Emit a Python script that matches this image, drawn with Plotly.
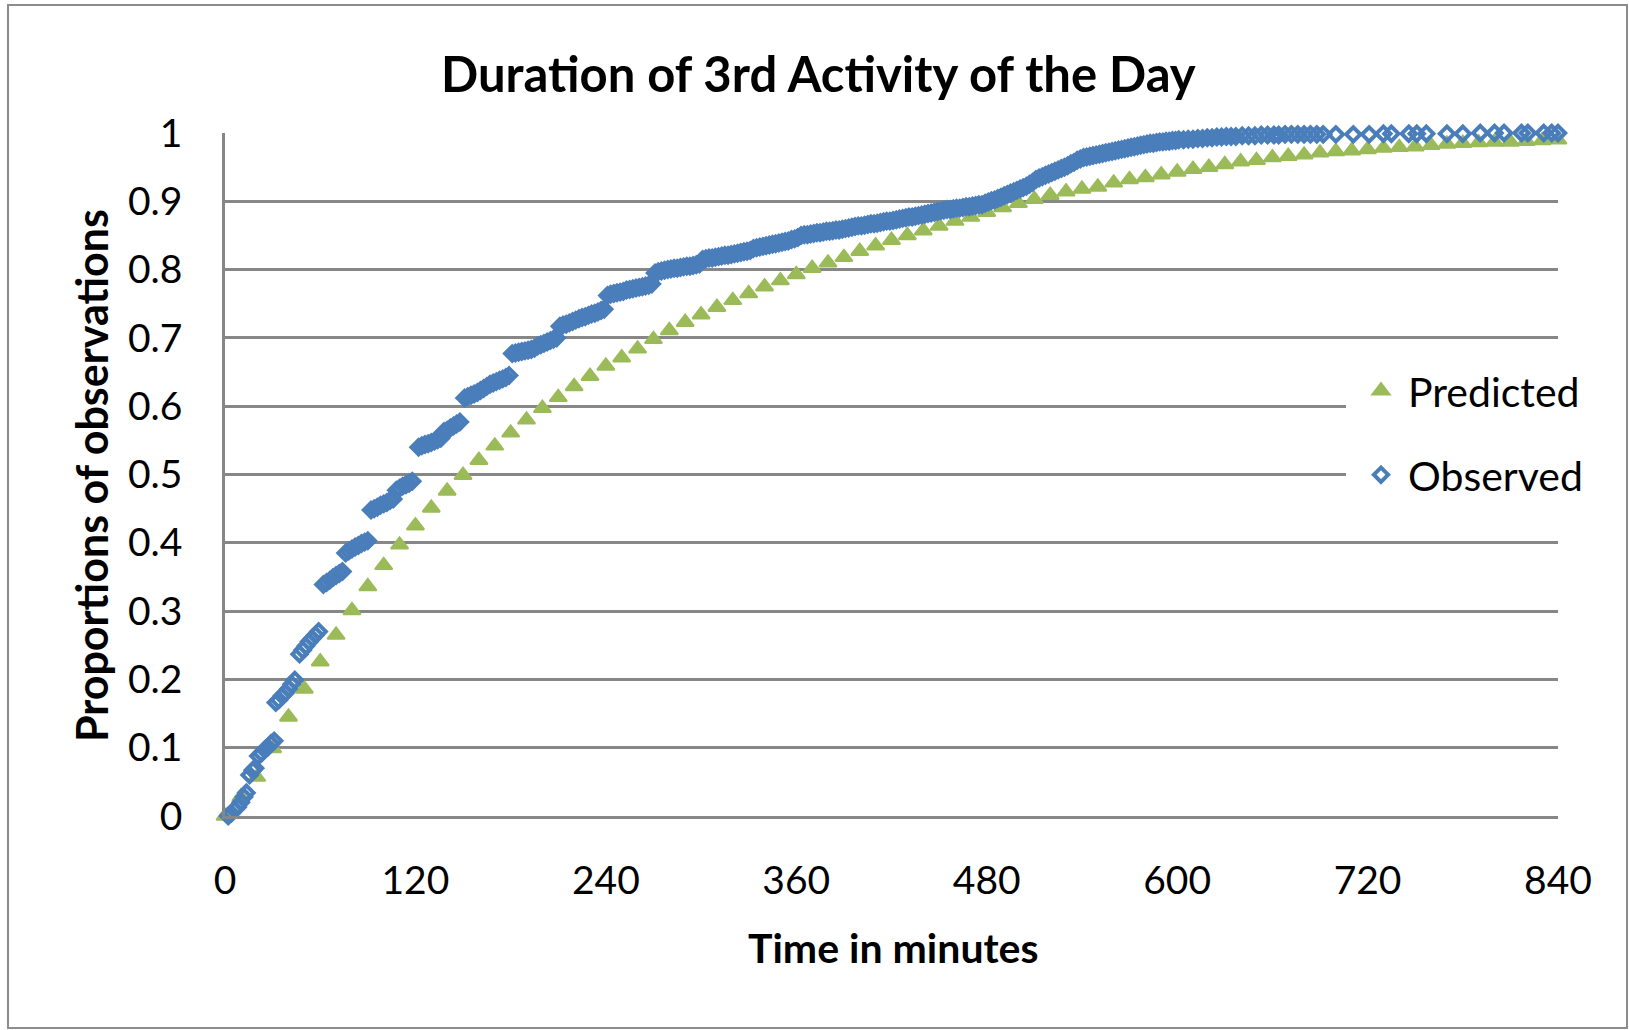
import plotly.graph_objects as go

# ---- data -------------------------------------------------------------
# Model prediction of cumulative share, sampled every 10 minutes
pred_minutes = [0, 10, 20, 30, 40, 50, 60, 70, 80, 90,
                100, 110, 120, 130, 140, 150, 160, 170, 180, 190,
                200, 210, 220, 230, 240, 250, 260, 270, 280, 290,
                300, 310, 320, 330, 340, 350, 360, 370, 380, 390,
                400, 410, 420, 430, 440, 450, 460, 470, 480, 490,
                500, 510, 520, 530, 540, 550, 560, 570, 580, 590,
                600, 610, 620, 630, 640, 650, 660, 670, 680, 690,
                700, 710, 720, 730, 740, 750, 760, 770, 780, 790,
                800, 810, 820, 830, 840]
pred_share = [0.0, 0.028, 0.057, 0.099, 0.145, 0.186, 0.226, 0.265, 0.301, 0.336,
              0.367, 0.397, 0.425, 0.451, 0.476, 0.499, 0.521, 0.542, 0.561, 0.580,
              0.597, 0.613, 0.629, 0.644, 0.659, 0.671, 0.684, 0.698, 0.711, 0.723,
              0.734, 0.745, 0.755, 0.765, 0.775, 0.784, 0.793, 0.802, 0.810, 0.818,
              0.827, 0.835, 0.843, 0.850, 0.857, 0.864, 0.871, 0.877, 0.884, 0.891,
              0.897, 0.903, 0.909, 0.914, 0.918, 0.921, 0.927, 0.932, 0.935, 0.939,
              0.943, 0.947, 0.950, 0.954, 0.958, 0.960, 0.964, 0.966, 0.968, 0.971,
              0.973, 0.974, 0.976, 0.978, 0.979, 0.980, 0.982, 0.984, 0.985, 0.986,
              0.987, 0.987, 0.988, 0.989, 0.990]

# Observed cumulative share of activity durations
obs_minutes = [
    2, 4, 6, 8, 10, 12, 13.5,
    15.5, 17.5, 19,
    21, 23, 25, 27, 29, 31,
    32, 34, 36, 38, 40, 42, 44,
    47, 49, 51, 53, 55, 57, 59,
    62, 64, 66, 68, 70, 72, 74,
    76, 78, 80, 82, 84, 86, 88, 90,
    92, 94, 96, 98, 100, 102, 104, 106,
    108, 110, 112, 114, 116, 118,
    122, 124, 126, 128, 130, 132, 134, 136,
    138, 140, 142, 144, 146, 148,
    151, 153, 155, 157, 159, 161, 163, 165,
    167, 169, 171, 173, 175, 177, 179,
    181, 183, 185, 187, 189, 191, 193, 195,
    197, 199, 201, 203, 205, 207, 209,
    211, 213, 215, 217, 219, 221,
    223, 225, 227, 229, 231, 233, 235, 237, 239,
    241, 243, 245, 247, 249, 251, 253, 255, 257, 259, 261, 263, 265, 267, 269,
    271, 273, 275, 277, 279, 281, 283, 285, 287, 289, 291, 293, 295, 297, 299,
    301, 303, 305, 307, 309, 311, 313, 315, 317, 319, 321, 323, 325, 327, 329, 331,
    333, 335, 337, 339, 341, 343, 345, 347, 349, 351, 353, 355, 357, 359, 361,
    363, 365, 367, 369, 371, 373, 375, 377, 379, 381, 383, 385, 387, 389, 391, 393,
    395, 397, 399, 401, 403, 405, 407, 409, 411, 413, 415, 417, 419, 421, 423, 425,
    427, 429, 431, 433, 435, 437, 439, 441, 443, 445, 447, 449, 451, 453, 455, 457,
    459, 461, 463, 465, 467, 469, 471, 473, 475, 477,
    479, 481, 483, 485, 487, 489, 491, 493, 495, 497, 499, 501, 503, 505, 507, 509,
    511, 513, 515, 517, 519, 521, 523, 525, 527, 529, 531, 533, 535, 537, 539, 541,
    543, 545, 547, 549, 551, 553, 555, 557, 559,
    561, 563, 565, 567, 569, 571, 573, 575, 577, 579, 581, 583, 585, 587, 589, 591,
    593, 595, 597, 599, 601,
    604, 607, 610, 613, 616, 619, 622, 625, 628, 631, 634,
    637, 641, 645, 649, 653, 657, 661, 664, 668, 672, 676, 680, 684, 688, 692,
    700, 711, 721, 730, 735, 746, 751, 757, 770, 780, 791, 800, 806, 817, 821,
    831, 836, 840,
]
obs_share = [
    0.0, 0.004, 0.009, 0.013, 0.02, 0.028, 0.034,
    0.06, 0.067, 0.07,
    0.088, 0.092, 0.097, 0.101, 0.106, 0.11,
    0.166, 0.17, 0.176, 0.18, 0.186, 0.193, 0.199,
    0.237, 0.243, 0.249, 0.255, 0.26, 0.265, 0.27,
    0.339, 0.342, 0.345, 0.349, 0.352, 0.355, 0.358,
    0.385, 0.388, 0.391, 0.394, 0.396, 0.399, 0.401, 0.403,
    0.448, 0.45, 0.452, 0.455, 0.457, 0.459, 0.462, 0.464,
    0.477, 0.48, 0.483, 0.485, 0.487, 0.49,
    0.54, 0.542, 0.544, 0.545, 0.547, 0.549, 0.551, 0.553,
    0.563, 0.565, 0.568, 0.571, 0.574, 0.577,
    0.612, 0.614, 0.616, 0.618, 0.62, 0.623, 0.626, 0.629,
    0.632, 0.634, 0.636, 0.638, 0.64, 0.642, 0.645,
    0.677, 0.678, 0.679, 0.68, 0.681, 0.682, 0.683, 0.685,
    0.688, 0.69, 0.692, 0.694, 0.696, 0.698, 0.7,
    0.717, 0.719, 0.72, 0.722, 0.724, 0.726,
    0.728, 0.73, 0.731, 0.733, 0.735, 0.736, 0.738, 0.74, 0.742,
    0.762, 0.764, 0.765, 0.766, 0.767, 0.768, 0.77, 0.771, 0.772, 0.773, 0.774,
    0.775, 0.776, 0.777, 0.779,
    0.795, 0.797, 0.798, 0.799, 0.8, 0.801, 0.802, 0.802, 0.803, 0.804, 0.805,
    0.805, 0.806, 0.807, 0.808,
    0.815, 0.816, 0.817, 0.817, 0.818, 0.819, 0.82, 0.821, 0.821, 0.822, 0.823,
    0.824, 0.825, 0.826, 0.827, 0.828,
    0.831, 0.832, 0.833, 0.834, 0.835, 0.836, 0.837, 0.838, 0.839, 0.84, 0.841,
    0.842, 0.844, 0.845, 0.847,
    0.85, 0.851, 0.851, 0.852, 0.853, 0.854, 0.854, 0.855, 0.856, 0.856, 0.857,
    0.858, 0.858, 0.859, 0.86, 0.861,
    0.862, 0.863, 0.864, 0.864, 0.865, 0.866, 0.867, 0.867, 0.868, 0.869, 0.87,
    0.871, 0.871, 0.872, 0.873, 0.874,
    0.875, 0.876, 0.877, 0.877, 0.878, 0.879, 0.88, 0.881, 0.882, 0.883, 0.884,
    0.885, 0.886, 0.887, 0.888, 0.888,
    0.889, 0.89, 0.89, 0.891, 0.892, 0.892, 0.893, 0.894, 0.895, 0.895,
    0.897, 0.899, 0.901, 0.902, 0.904, 0.906, 0.908, 0.91, 0.912, 0.914, 0.916,
    0.918, 0.92, 0.922, 0.925, 0.928,
    0.932, 0.934, 0.936, 0.938, 0.94, 0.942, 0.944, 0.946, 0.948, 0.95, 0.952,
    0.955, 0.957, 0.96, 0.962, 0.964,
    0.965, 0.966, 0.967, 0.968, 0.969, 0.97, 0.971, 0.972, 0.973,
    0.974, 0.975, 0.976, 0.977, 0.978, 0.979, 0.98, 0.981, 0.982, 0.983, 0.984,
    0.985, 0.985, 0.986, 0.987, 0.987,
    0.988, 0.988, 0.989, 0.989, 0.99,
    0.99, 0.991, 0.991, 0.992, 0.992, 0.993, 0.993, 0.994, 0.994, 0.995, 0.995,
    0.995, 0.996, 0.996, 0.996, 0.997, 0.997, 0.997, 0.997, 0.998, 0.998, 0.998,
    0.998, 0.998, 0.998, 0.998,
    0.998, 0.998, 0.998, 0.999, 0.999, 0.999, 0.999, 0.999, 0.999, 0.999, 1.0,
    1.0, 1.0, 1.0, 1.0,
    1.0, 1.0, 1.0,
]

x_tick_values = [0, 120, 240, 360, 480, 600, 720, 840]
y_tick_values = [0, 0.1, 0.2, 0.3, 0.4, 0.5, 0.6, 0.7, 0.8, 0.9, 1]
y_tick_labels = ["0", "0.1", "0.2", "0.3", "0.4", "0.5", "0.6", "0.7", "0.8", "0.9", "1"]

# ---- layout geometry (pixels) ----------------------------------------
W, H = 1629, 1030
PL, PR, PT, PB = 225, 1558, 133, 816   # plot-area edges


def fx(px):
    return (px - PL) / (PR - PL)


def fy(py):
    return (PB - py) / (PB - PT)


GREEN = "#9BBB59"
BLUE = "#4A7EBB"
GRID = "#878787"
FONT = "Lato"

fig = go.Figure()

fig.add_trace(go.Scatter(
    x=pred_minutes, y=pred_share, mode="markers", name="Predicted",
    marker=dict(symbol="triangle-up", size=15, color=GREEN,
                line=dict(color=GREEN, width=2)),
    cliponaxis=False, legend="legend",
))
fig.add_trace(go.Scatter(
    x=obs_minutes, y=obs_share, mode="markers", name="Observed",
    marker=dict(symbol="diamond-open", size=11, color=BLUE,
                line=dict(width=4)),
    cliponaxis=False, legend="legend2",
))

# white border pads the legend box so it masks the gridlines a bit further left
legend_common = dict(
    xanchor="left", yanchor="middle", bgcolor="white",
    bordercolor="white", borderwidth=8,
    font=dict(family=FONT, size=41, color="black"), itemwidth=44,
)

fig.update_layout(
    width=W, height=H,
    margin=dict(l=PL, r=W - PR, t=PT, b=H - PB, autoexpand=False),
    paper_bgcolor="white", plot_bgcolor="white",
    showlegend=True,
    legend=dict(x=fx(1381 - 27 - 8), y=fy(391), **legend_common),
    legend2=dict(x=fx(1381 - 27 - 8), y=fy(475), **legend_common),
    xaxis=dict(
        range=[0, 840], tickmode="array", tickvals=x_tick_values,
        showgrid=False, zeroline=False, showline=True,
        linecolor=GRID, linewidth=2.5, ticks="",
        tickfont=dict(family=FONT, size=39, color="black"),
        ticklabelstandoff=28,
    ),
    yaxis=dict(
        range=[0, 1], tickmode="array", tickvals=y_tick_values,
        ticktext=y_tick_labels,
        showgrid=True, gridcolor=GRID, gridwidth=2.5,
        zeroline=False, showline=True, linecolor=GRID, linewidth=2.5,
        ticks="", tickfont=dict(family=FONT, size=39, color="black"),
        ticklabelstandoff=32,
    ),
    annotations=[
        dict(text="Duration of 3rd Activity of the Day", xref="paper", yref="paper",
             x=fx(818), y=fy(73), xanchor="center", yanchor="middle",
             showarrow=False,
             font=dict(family=FONT, size=49, color="black", weight="bold")),
        dict(text="Time in minutes", xref="paper", yref="paper",
             x=fx(893), y=fy(947), xanchor="center", yanchor="middle",
             showarrow=False,
             font=dict(family=FONT, size=41, color="black", weight="bold")),
        dict(text="Proportions of observations", xref="paper", yref="paper",
             x=fx(91), y=fy(476), xanchor="center", yanchor="middle",
             showarrow=False, textangle=-90,
             font=dict(family=FONT, size=43, color="black", weight="bold")),
    ],
    shapes=[
        dict(type="rect", xref="paper", yref="paper",
             x0=fx(8), x1=fx(1627), y0=fy(1028), y1=fy(5),
             line=dict(color="#8C8C8C", width=2), fillcolor="rgba(0,0,0,0)",
             layer="below"),
    ],
)

fig.write_html("out.html")
